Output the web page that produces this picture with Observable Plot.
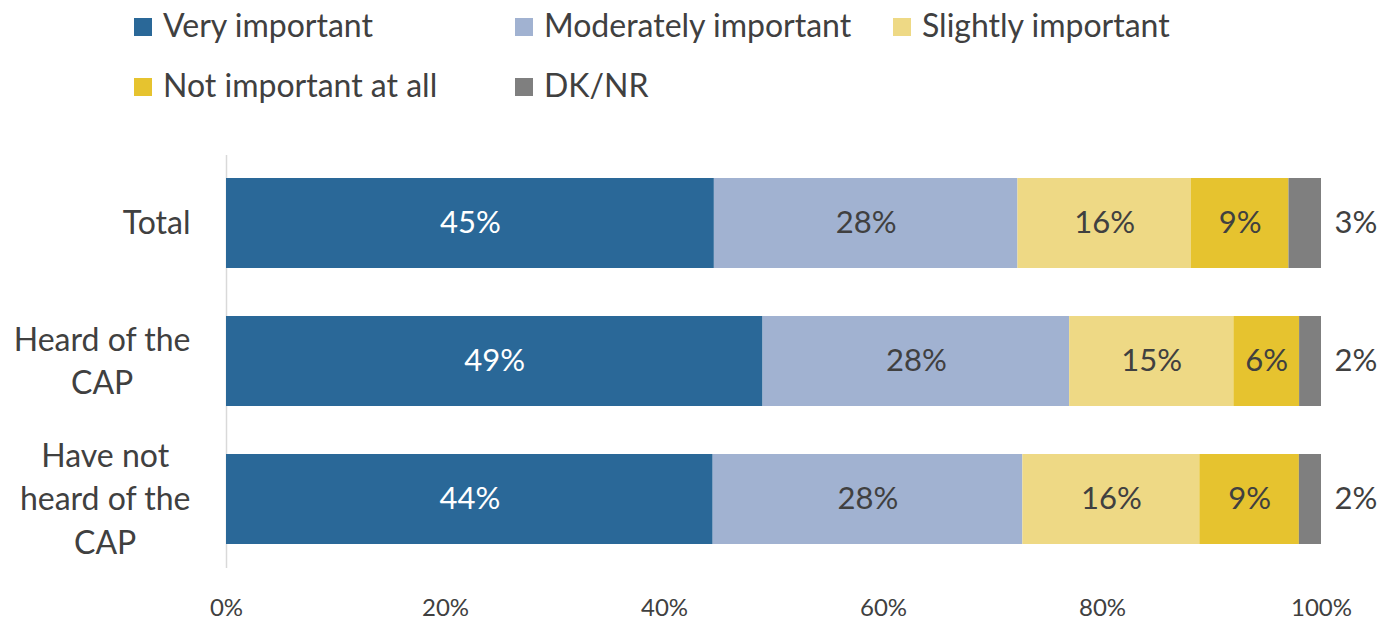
<!DOCTYPE html>
<html>
<head>
<meta charset="utf-8">
<script src="https://cdn.jsdelivr.net/npm/d3@7"></script>
<script src="https://cdn.jsdelivr.net/npm/@observablehq/plot@0.6"></script>
<style>
  body { margin: 0; background: #fff; font-family: Lato, "Open Sans", sans-serif; color: #404040; }
  #wrap { position: relative; width: 1381px; height: 622px; }
  #legend { position: absolute; left: 0; top: 0; width: 1381px; height: 130px; }
  .sw { position: absolute; width: 18px; height: 18px; }
  .lt { position: absolute; font-size: 32px; line-height: 32px; white-space: nowrap; color: #404040; }
  #chart { position: absolute; left: 0; top: 130px; }
</style>
</head>
<body>
<div id="wrap">
  <div id="legend"></div>
  <div id="chart"></div>
</div>
<script>
// Response categories, in stacking order
const keys = ["Very important", "Moderately important", "Slightly important", "Not important at all", "DK/NR"];
const colors = ["#2a6898", "#a1b2d1", "#eed985", "#e6c32f", "#7f7f7f"];

// Respondent groups and their wrapped tick labels
const groups = ["Total", "Heard of the CAP", "Have not heard of the CAP"];
const groupLabels = ["Total", "Heard of the\nCAP", "Have not\nheard of the\nCAP"];

// Percentages per group, one array per response category
const veryImportant = [45, 49, 44];
const moderatelyImportant = [28, 28, 28];
const slightlyImportant = [16, 15, 16];
const notImportant = [9, 6, 9];
const dkNr = [3, 2, 2];

// x-axis ticks
const xTicks = [0, 0.2, 0.4, 0.6, 0.8, 1];

const series = [veryImportant, moderatelyImportant, slightlyImportant, notImportant, dkNr];
const rows = [];
groups.forEach((g, i) => {
  keys.forEach((k, j) => rows.push({group: g, key: k, value: series[j][i]}));
});

// Legend: two rows, laid out like the original chart's legend
const legendItems = [
  {k: 0, x: 134, row: 0}, {k: 1, x: 515, row: 0}, {k: 2, x: 893, row: 0},
  {k: 3, x: 134, row: 1}, {k: 4, x: 515, row: 1}
];
const legend = document.getElementById("legend");
legendItems.forEach(it => {
  const sw = document.createElement("div");
  sw.className = "sw";
  sw.style.left = it.x + "px";
  sw.style.top = (it.row === 0 ? 18 : 78) + "px";
  sw.style.background = colors[it.k];
  legend.appendChild(sw);
  const t = document.createElement("div");
  t.className = "lt";
  t.style.left = (it.x + 29) + "px";
  t.style.top = (it.row === 0 ? 9 : 69) + "px";
  t.textContent = keys[it.k];
  legend.appendChild(t);
});

const stackOpts = {x: "value", y: "group", z: "key", offset: "normalize", order: keys};

const chart = Plot.plot({
  width: 1381,
  height: 492,
  marginLeft: 226,
  marginRight: 60,
  marginTop: 25,
  marginBottom: 54,
  style: {fontFamily: "Lato, 'Open Sans', sans-serif", color: "#404040", background: "white"},
  x: {domain: [0, 1], axis: null},
  y: {domain: groups, paddingInner: 0.345, paddingOuter: 0.16, axis: null},
  color: {domain: keys, range: colors},
  marks: [
    Plot.ruleX([0], {stroke: "#d9d9d9", strokeWidth: 1.5}),
    Plot.barX(rows, Plot.stackX({...stackOpts, fill: "key"})),
    // segment labels inside the bars
    Plot.text(rows, Plot.stackX({
      ...stackOpts,
      text: d => d.key === "DK/NR" ? null : d.value + "%",
      fill: d => d.key === "Very important" ? "white" : "#404040",
      fontSize: 31
    })),
    // DK/NR value to the right of each bar
    Plot.text(rows, Plot.stackX2({
      ...stackOpts,
      text: d => d.key === "DK/NR" ? d.value + "%" : null,
      textAnchor: "start",
      dx: 13,
      fill: "#404040",
      fontSize: 31
    })),
    // group labels
    Plot.text(groups, {
      x: () => 0,
      y: d => d,
      text: (d, i) => groupLabels[i],
      textAnchor: "end",
      dx: -36,
      dy: -3,
      lineHeight: 1.36,
      fontSize: 32,
      fill: "#404040",
      className: "ylab"
    }),
    Plot.axisX({
      ticks: xTicks,
      tickFormat: d3.format(".0%"),
      tickSize: 0,
      tickPadding: 30,
      fontSize: 24,
      label: null
    })
  ]
});
document.getElementById("chart").appendChild(chart);

// Center each line of a wrapped group label within its right-aligned block
chart.querySelectorAll("g.ylab text").forEach(t => {
  const spans = t.querySelectorAll("tspan");
  if (spans.length < 2) return;
  let maxW = 0;
  spans.forEach(s => { maxW = Math.max(maxW, s.getComputedTextLength()); });
  t.setAttribute("text-anchor", "middle");
  spans.forEach(s => s.setAttribute("x", -maxW / 2));
});
</script>
</body>
</html>
